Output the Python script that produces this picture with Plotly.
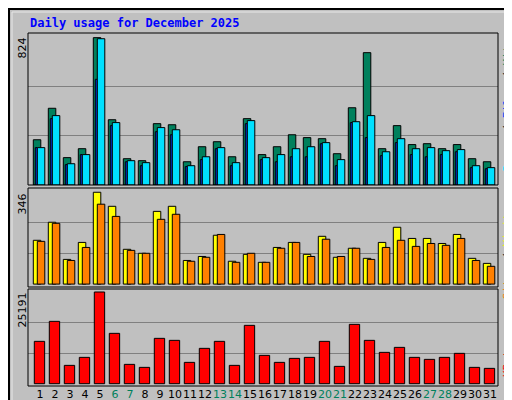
import plotly.graph_objects as go
from plotly.subplots import make_subplots

days = list(range(1, 32))
weekend = [6, 7, 13, 14, 20, 21, 27, 28]

hits = [253, 429, 153, 203, 824, 365, 147, 136, 343, 337, 130, 214, 242, 158, 371, 170,
        214, 281, 265, 259, 175, 432, 740, 203, 332, 226, 231, 203, 226, 147, 130]
files = [209, 371, 114, 170, 591, 332, 130, 108, 298, 281, 103, 142, 203, 108, 343, 142,
         130, 158, 158, 231, 108, 349, 265, 164, 237, 170, 158, 170, 186, 97, 91]
pages = [209, 388, 119, 170, 818, 349, 136, 125, 321, 309, 108, 158, 209, 125, 360, 153,
         170, 203, 214, 237, 142, 354, 388, 186, 259, 203, 209, 192, 198, 108, 97]
sites = [165, 233, 93, 157, 346, 293, 131, 116, 274, 293, 89, 104, 184, 86, 112, 82,
         138, 157, 112, 180, 101, 135, 97, 157, 214, 172, 172, 153, 187, 97, 78]
visits = [161, 229, 89, 138, 301, 255, 127, 116, 244, 263, 86, 101, 187, 82, 116, 82,
          135, 157, 104, 169, 104, 135, 93, 138, 165, 142, 153, 146, 172, 89, 67]
kbytes = [11633, 17129, 5038, 7236, 25191, 13832, 5313, 4488, 12458, 11908, 5862, 9710,
          11633, 5038, 16030, 7786, 5862, 6962, 7236, 11633, 4763, 16305, 11908, 8610,
          9984, 7236, 6687, 7236, 8336, 4488, 4214]

C_HITS, C_FILES, C_PAGES = "#00805C", "#0040FF", "#00E0FF"
C_SITES, C_VISITS, C_KB = "#FFFF00", "#FF8000", "#FF0000"
GREEN = "#00805C"

# plot area in pixels
L, R, T, B = 20, 490, 25, 378
W, H = R - L, B - T

def px(x):
    return (x - L) / W

def py(y):
    return (B - y) / H

fig = make_subplots(rows=3, cols=1, shared_xaxes=True, vertical_spacing=0)

def bar(y, color, offset, width, row):
    fig.add_trace(go.Bar(x=days, y=y, offset=offset, width=width, marker_color=color,
                         marker_line=dict(color="black", width=1), showlegend=False,
                         hoverinfo="y"), row=row, col=1)

bar(hits, C_HITS, 0, 0.5, 1)
bar(files, C_FILES, 0.133, 0.133, 1)
bar(pages, C_PAGES, 0.267, 0.5, 1)
bar(sites, C_SITES, 0, 0.5, 2)
bar(visits, C_VISITS, 0.267, 0.5, 2)
bar(kbytes, C_KB, 0.067, 0.69, 3)

ticktext = [f'<span style="color:{GREEN}">{d}</span>' if d in weekend else str(d) for d in days]
r0 = 0.647
for i in (1, 2, 3):
    fig.update_xaxes(range=[r0, r0 + W / 15], showgrid=False, zeroline=False,
                     showline=False, ticks="", automargin=False, row=i, col=1)
fig.update_xaxes(tickvals=[d + 0.45 for d in days], ticktext=ticktext, tickangle=0,
                 tickfont=dict(family="DejaVu Sans", size=11, color="black"), row=3, col=1)

def yax(row, mx, lo, hi, top, bot):
    fig.update_yaxes(range=[lo, hi], tickvals=[mx / 3, 2 * mx / 3], showticklabels=False,
                     gridcolor="#808080", gridwidth=1, zeroline=False, ticks="",
                     automargin=False, domain=[py(bot), py(top)], row=row, col=1)

yax(1, 824, 0, 850, 25, 177)
yax(2, 346, -11, 362, 180, 279)
yax(3, 25191, -632, 26015, 281, 378)

fig.update_layout(
    width=512, height=400, margin=dict(l=L, r=512 - R, t=T, b=400 - B, autoexpand=False),
    paper_bgcolor="#C0C0C0", plot_bgcolor="#C0C0C0", barmode="overlay",
    font=dict(family="DejaVu Sans Mono"),
)

mono = "DejaVu Sans Mono"
ann = [
    dict(x=20, y=15, text="<b>Daily usage for December 2025</b>", color="#0000FF", size=12,
         angle=0, xanchor="left", yanchor="middle"),
    dict(x=14, y=28, text="824", color="black", size=11, angle=-90, xanchor="center", yanchor="top", fam="DejaVu Sans"),
    dict(x=14, y=184, text="346", color="black", size=11, angle=-90, xanchor="center", yanchor="top", fam="DejaVu Sans"),
    dict(x=14, y=283, text="25191", color="black", size=11, angle=-90, xanchor="center", yanchor="top", fam="DejaVu Sans"),
    dict(x=499, y=29, text=f'<span style="color:{C_PAGES}">Pages</span> / <span style="color:{C_FILES}">Files</span> / <span style="color:{C_HITS}">Hits</span>',
         color="black", size=11, angle=-90, xanchor="center", yanchor="top"),
    dict(x=499, y=197, text=f'<span style="color:{C_VISITS}">Sites</span> / <span style="color:{C_SITES}">Visits</span>',
         color="black", size=11, angle=-90, xanchor="center", yanchor="top"),
    dict(x=499, y=327, text="KBytes", color=C_KB, size=11, angle=-90, xanchor="center", yanchor="top"),
]
for a in ann:
    fig.add_annotation(x=px(a["x"]), y=py(a["y"]), xref="paper", yref="paper",
                       text=a["text"], showarrow=False, textangle=a["angle"],
                       xanchor=a["xanchor"], yanchor=a["yanchor"],
                       font=dict(family=a.get("fam", mono), size=a["size"], color=a["color"]))

# panel frames and outer bevel
for top, bot in [(25, 177), (180, 279), (281, 378)]:
    fig.add_shape(type="rect", xref="paper", yref="paper", x0=px(20), x1=px(490),
                  y0=py(bot), y1=py(top), line=dict(color="black", width=1))
fig.add_shape(type="rect", xref="paper", yref="paper", x0=px(1), x1=px(511), y0=py(399), y1=py(1),
              line=dict(color="black", width=2))
fig.add_shape(type="rect", xref="paper", yref="paper", x0=px(4), x1=px(508), y0=py(396), y1=py(4),
              line=dict(color="#E8E8E8", width=1))

fig.write_html("out.html")
